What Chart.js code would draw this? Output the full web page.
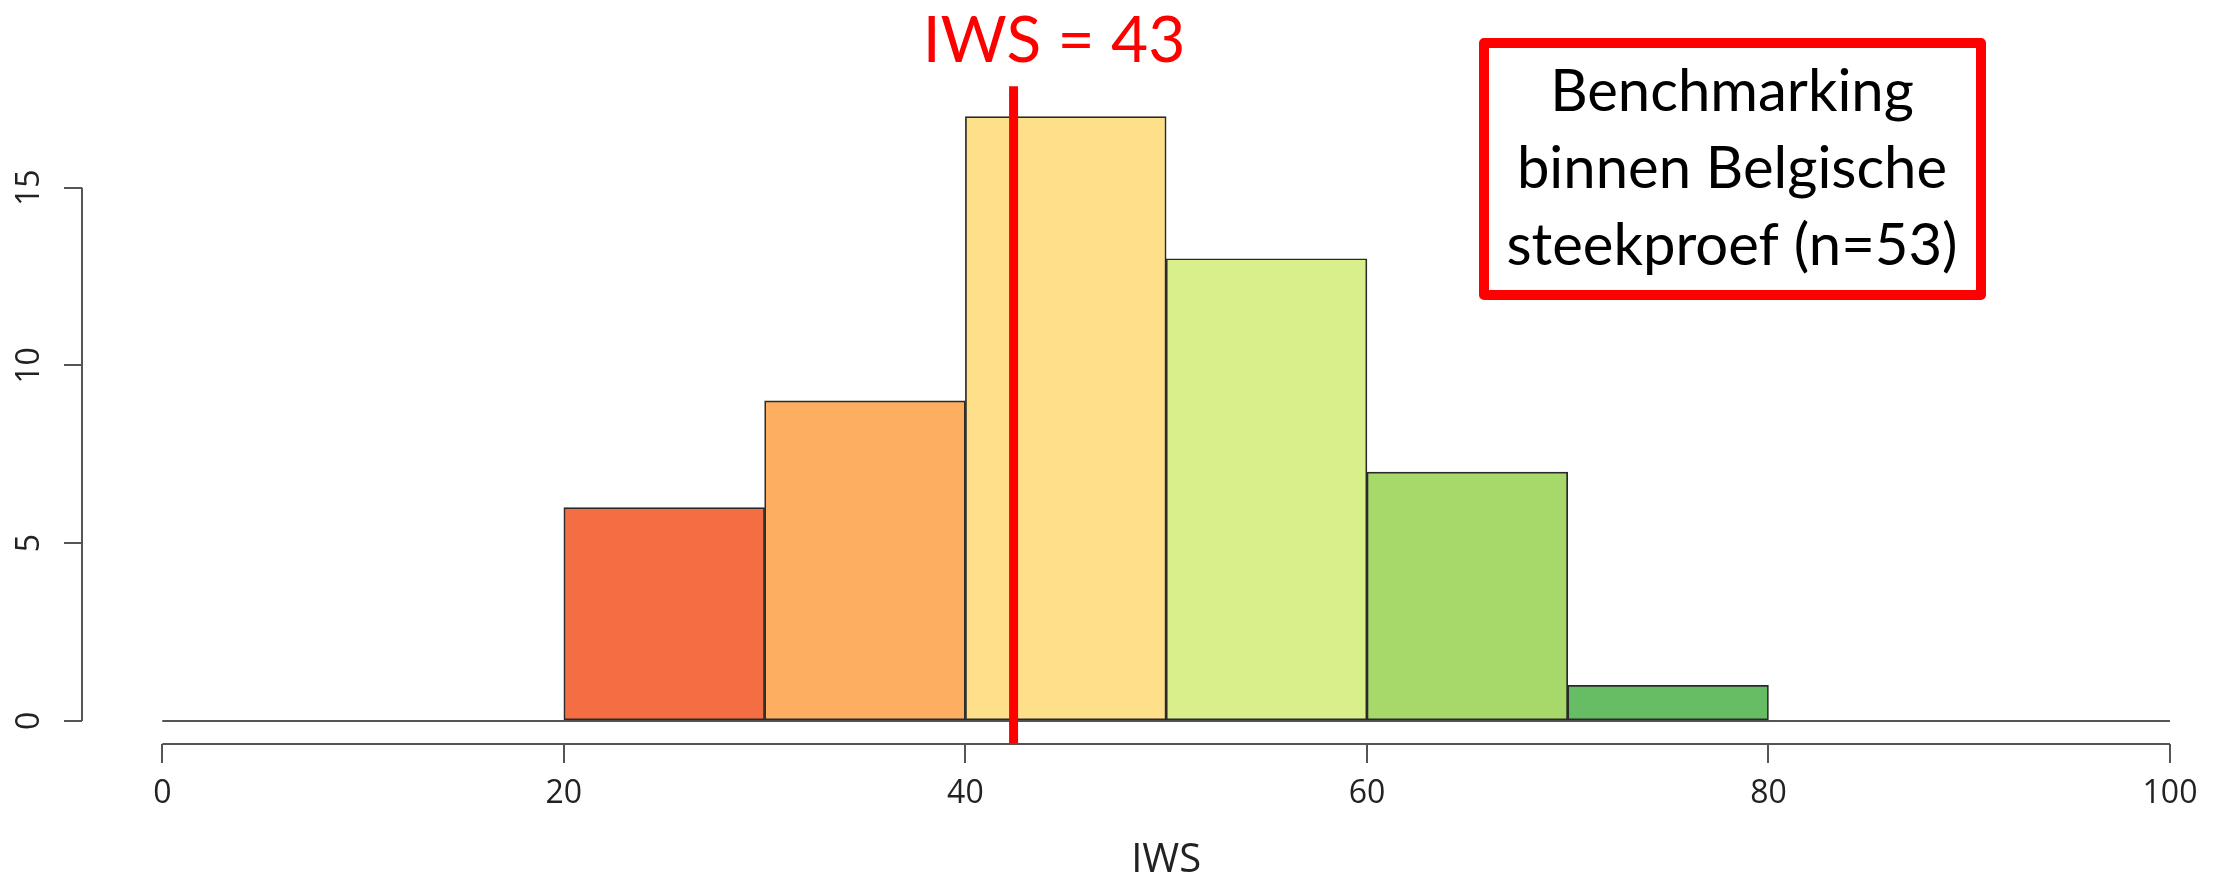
<!DOCTYPE html>
<html>
<head>
<meta charset="utf-8">
<script src="https://cdn.jsdelivr.net/npm/chart.js@4.4.1/dist/chart.umd.min.js"></script>
<style>
  html, body { margin: 0; padding: 0; background: #fff; }
  #wrap { width: 2223px; height: 875px; }
</style>
</head>
<body>
<div id="wrap"><canvas id="histChart" width="2223" height="875"></canvas></div>
<script>
// Histogram data (IWS scores, Belgian sample)
const binEdges = [0, 10, 20, 30, 40, 50, 60, 70, 80, 90, 100];
const counts = [0, 0, 6, 9, 17, 13, 7, 1, 0, 0];
const binColors = ["#ffffff", "#ffffff", "#f46d43", "#fdae61", "#fee08b", "#d9ef8b", "#a6d96a", "#66bd63", "#ffffff", "#ffffff"];
const xTicks = [0, 20, 40, 60, 80, 100];
const yTicks = [0, 5, 10, 15];
const xRange = [-4, 100];
const yRange = [-0.65, 18];
const iwsMarker = 42.4;
const markerTop = 17.85;
const iwsLabel = "IWS = 43";
const boxLines = ["Benchmarking", "binnen Belgische", "steekproef (n=53)"];
const axisTitle = "IWS";

const bars = counts.map((c, i) => ({ x: (binEdges[i] + binEdges[i + 1]) / 2, y: c }));

// R-style axis lines + text annotations
const rStylePlugin = {
  id: "rStyle",
  afterDatasetsDraw(chart) {
    const { ctx, chartArea, scales } = chart;
    const x = scales.x, y = scales.y;
    ctx.save();
    ctx.strokeStyle = "#555";
    ctx.lineWidth = 2;
    // y axis line only spans the ticks
    ctx.beginPath();
    ctx.moveTo(chartArea.left, y.getPixelForValue(yTicks[0]));
    ctx.lineTo(chartArea.left, y.getPixelForValue(yTicks[yTicks.length - 1]));
    ctx.stroke();
    // x axis line
    ctx.beginPath();
    ctx.moveTo(x.getPixelForValue(xTicks[0]), chartArea.bottom);
    ctx.lineTo(x.getPixelForValue(xTicks[xTicks.length - 1]), chartArea.bottom);
    ctx.stroke();

    // axis title
    ctx.fillStyle = "#222";
    ctx.font = "40px 'Open Sans'";
    ctx.textAlign = "center";
    ctx.textBaseline = "alphabetic";
    ctx.fillText(axisTitle, x.getPixelForValue(50), 872);

    // marker label
    ctx.fillStyle = "#ff0000";
    ctx.font = "64px Lato";
    ctx.fillText(iwsLabel, 1054, 62);

    // red box
    ctx.strokeStyle = "#ff0000";
    ctx.lineWidth = 10;
    ctx.lineJoin = "round";
    ctx.strokeRect(1484, 43, 497, 252);
    ctx.fillStyle = "#000";
    ctx.font = "58px Lato";
    boxLines.forEach((t, i) => ctx.fillText(t, 1732, 111 + i * 77));
    ctx.restore();
  },
};

new Chart(document.getElementById("histChart").getContext("2d"), {
  type: "bar",
  data: {
    datasets: [
      {
        type: "line",
        data: [{ x: iwsMarker, y: yRange[0] }, { x: iwsMarker, y: markerTop }],
        borderColor: "#ff0000",
        borderWidth: 9,
        pointRadius: 0,
        clip: false,
        order: 0,
      },
      {
        label: "IWS",
        data: bars,
        backgroundColor: binColors,
        borderColor: "#2a2a2a",
        borderWidth: 1.7,
        borderSkipped: false,
        barPercentage: 1,
        categoryPercentage: 1,
        order: 1,
      },
      {
        type: "line",
        data: [{ x: binEdges[0], y: 0 }, { x: binEdges[binEdges.length - 1], y: 0 }],
        borderColor: "#555",
        borderWidth: 2,
        pointRadius: 0,
        order: 2,
      },
    ],
  },
  options: {
    responsive: false,
    devicePixelRatio: 1,
    animation: false,
    layout: { padding: { left: 0, right: 53, top: 81, bottom: 0 } },
    plugins: { legend: { display: false }, tooltip: { enabled: false } },
    scales: {
      x: {
        type: "linear",
        min: xRange[0],
        max: xRange[1],
        offset: false,
        border: { display: false },
        grid: { offset: false, drawOnChartArea: false, drawTicks: true, tickLength: 19, tickColor: "#555", lineWidth: 2 },
        ticks: { font: { family: "'Open Sans'", size: 32 }, color: "#222", padding: 12, maxRotation: 0 },
        afterBuildTicks: (scale) => { scale.ticks = xTicks.map((v) => ({ value: v })); },
        afterFit: (scale) => { scale.height = 131; },
      },
      y: {
        min: yRange[0],
        max: yRange[1],
        border: { display: false },
        grid: { drawOnChartArea: false, drawTicks: true, tickLength: 18, tickColor: "#555", lineWidth: 2 },
        ticks: { font: { family: "'Open Sans'", size: 32 }, color: "#222", padding: 16, minRotation: 90, maxRotation: 90, crossAlign: "center" },
        afterBuildTicks: (scale) => { scale.ticks = yTicks.map((v) => ({ value: v })); },
        afterFit: (scale) => { scale.width = 82; },
      },
    },
  },
  plugins: [rStylePlugin],
});
</script>
</body>
</html>
